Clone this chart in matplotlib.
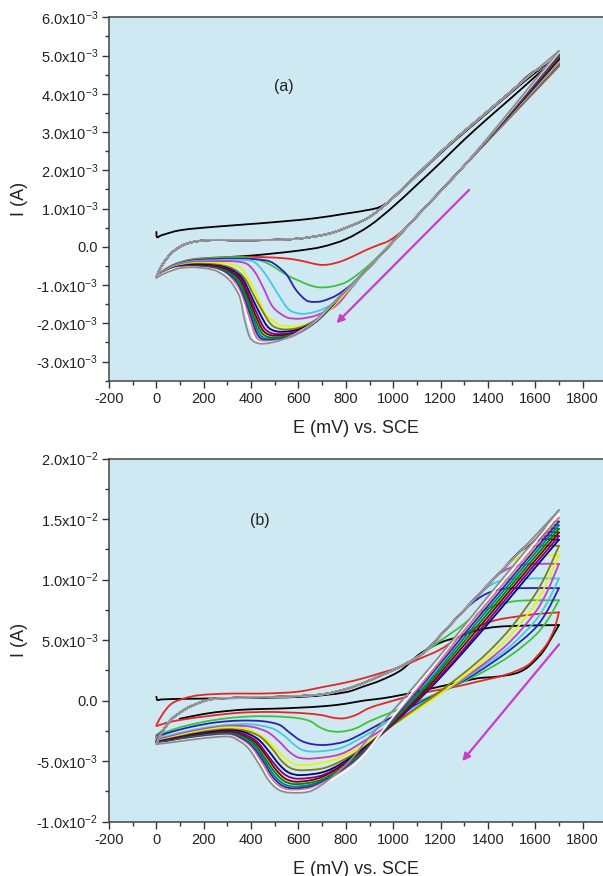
import numpy as np
import matplotlib
matplotlib.use("Agg")
import matplotlib.pyplot as plt
from matplotlib.path import Path
from matplotlib.patches import PathPatch
from matplotlib.ticker import MultipleLocator, FixedLocator, FixedFormatter

# ---------------- data (E in mV, I in mA) ----------------
COLORS = ['#000000', '#e8251f', '#3cc23c', '#2323b4', '#45c8e0', '#c43cc4',
          '#f0f000', '#808000', '#000080', '#800080', '#800000', '#008000',
          '#008080', '#2a2aa8', '#e07090', '#ffffff', '#8c8c8c']

# panel (a)
A_BLACK_FWD_E = [0, 3, 21, 98, 239, 450, 661, 802, 901, 943, 985, 1100, 1224, 1365, 1505, 1600, 1700]
A_BLACK_FWD_I = [0.39, 0.25, 0.30, 0.43, 0.52, 0.62, 0.74, 0.87, 0.97, 1.04, 1.2, 1.86, 2.58, 3.33, 4.07, 4.55, 5.0]
A_FWD_E = [0, 28, 70, 127, 211, 380, 591, 732, 845, 900, 985, 1100, 1224, 1365, 1505, 1600]
A_FWD_I = [-0.79, -0.44, -0.13, 0.08, 0.17, 0.17, 0.21, 0.35, 0.61, 0.78, 1.2, 1.88, 2.61, 3.36, 4.1, 4.6]
A_APEX = [5.0, 4.72, 4.75, 4.78, 4.8, 4.82, 4.85, 4.88, 4.9, 4.93, 4.95, 4.98, 5.0, 5.03, 5.06, 5.09, 5.12]
A_LINE_E = [1300, 1100, 887, 800, 720]
A_LINE_I = [2.12, 0.80, -0.61, -1.15, -1.62]
A_RET = [
    [(1600, 4.45), (1500, 3.9), (1400, 3.36), (1300, 2.8), (1200, 2.2), (1100, 1.62), (1000, 1.05), (900, 0.55),
     (800, 0.2), (700, 0.0), (600, -0.1), (500, -0.17), (400, -0.23), (300, -0.27)],
    [(1040, 0.42), (980, 0.15), (934, 0.04), (880, -0.1), (830, -0.25), (780, -0.38), (730, -0.46), (690, -0.47),
     (650, -0.42), (600, -0.35), (540, -0.3), (450, -0.27), (350, -0.26), (250, -0.28), (150, -0.33), (80, -0.45),
     (30, -0.62), (0, -0.79)],
    [(960, -0.1), (929, -0.3), (873, -0.61), (802, -0.92), (740, -1.04), (690, -1.06), (650, -1.01), (600, -0.88),
     (563, -0.78), (520, -0.62), (490, -0.5), (450, -0.38), (400, -0.3), (350, -0.27), (250, -0.29), (150, -0.34),
     (80, -0.46), (30, -0.63), (0, -0.8)],
    [(880, -0.66), (829, -0.96), (760, -1.27), (700, -1.42), (660, -1.44), (633, -1.40), (591, -1.14),
     (549, -0.72), (510, -0.5), (478, -0.38), (430, -0.33), (350, -0.31), (250, -0.32), (150, -0.36), (80, -0.47),
     (30, -0.63), (0, -0.8)],
    [(860, -0.8), (829, -1.05), (760, -1.44), (690, -1.66), (640, -1.74), (610, -1.75), (563, -1.66), (521, -1.31),
     (478, -0.88), (440, -0.55), (408, -0.38), (350, -0.34), (250, -0.35), (150, -0.38), (80, -0.48), (30, -0.64),
     (0, -0.8)],
    [(840, -0.93), (760, -1.53), (676, -1.79), (620, -1.87), (590, -1.88), (549, -1.84), (493, -1.58), (450, -1.05),
     (415, -0.65), (380, -0.44), (330, -0.38), (250, -0.38), (150, -0.4), (80, -0.5), (30, -0.65), (0, -0.8)],
    [(820, -1.06), (740, -1.6), (661, -1.97), (600, -2.07), (560, -2.08), (521, -2.05), (490, -1.92), (464, -1.79),
     (440, -1.5), (422, -1.22), (390, -0.85), (352, -0.53), (300, -0.44), (250, -0.42), (150, -0.43), (80, -0.52),
     (30, -0.66), (0, -0.8)],
    [(800, -1.15), (700, -1.78), (620, -2.08), (540, -2.16), (490, -2.06), (450, -1.7), (410, -1.25), (370, -0.8),
     (320, -0.56), (250, -0.46), (150, -0.45), (80, -0.53), (30, -0.67), (0, -0.8)],
    [(800, -1.15), (700, -1.8), (610, -2.14), (520, -2.22), (475, -2.12), (440, -1.78), (400, -1.28), (360, -0.8),
     (310, -0.58), (250, -0.49), (150, -0.47), (80, -0.54), (30, -0.68), (0, -0.8)],
    [(780, -1.27), (690, -1.86), (600, -2.2), (505, -2.28), (462, -2.17), (430, -1.82), (393, -1.3), (355, -0.82),
     (305, -0.6), (250, -0.51), (150, -0.49), (80, -0.55), (30, -0.68), (0, -0.8)],
    [(780, -1.27), (690, -1.87), (600, -2.23), (495, -2.32), (455, -2.22), (423, -1.85), (386, -1.3), (350, -0.84),
     (300, -0.62), (250, -0.53), (150, -0.5), (80, -0.55), (30, -0.68), (0, -0.8)],
    [(760, -1.4), (680, -1.92), (590, -2.27), (485, -2.37), (448, -2.27), (416, -1.88), (380, -1.3), (345, -0.86),
     (298, -0.64), (250, -0.55), (150, -0.51), (80, -0.56), (30, -0.69), (0, -0.8)],
    [(760, -1.4), (680, -1.93), (580, -2.3), (475, -2.41), (440, -2.31), (410, -1.9), (374, -1.3), (340, -0.88),
     (295, -0.66), (245, -0.56), (150, -0.52), (80, -0.56), (30, -0.69), (0, -0.8)],
    [(740, -1.52), (670, -1.97), (570, -2.34), (465, -2.44), (432, -2.34), (404, -1.92), (368, -1.3), (335, -0.9),
     (292, -0.68), (243, -0.57), (150, -0.53), (80, -0.56), (30, -0.69), (0, -0.8)],
    [(740, -1.52), (665, -1.98), (560, -2.38), (455, -2.47), (424, -2.38), (398, -1.95), (362, -1.3), (332, -0.93),
     (290, -0.7), (241, -0.58), (150, -0.53), (80, -0.56), (30, -0.69), (0, -0.8)],
    [(720, -1.63), (660, -1.99), (540, -2.42), (445, -2.5), (416, -2.42), (396, -2.1), (357, -1.3), (331, -1.0),
     (288, -0.71), (240, -0.59), (150, -0.54), (80, -0.57), (30, -0.69), (0, -0.8)],
    [(661, -1.98), (600, -2.25), (521, -2.45), (470, -2.52), (436, -2.53), (410, -2.47), (394, -2.36), (373, -1.92),
     (352, -1.31), (330, -1.05), (310, -0.88), (280, -0.72), (239, -0.6), (169, -0.54), (98, -0.56), (40, -0.68),
     (0, -0.8)],
]

# panel (b)
B_BLACK_FWD_E = [0, 4, 20, 100, 308, 631, 800, 873, 950, 1034, 1115, 1200, 1276, 1360, 1437, 1550, 1700]
B_BLACK_FWD_I = [0.33, 0.06, 0.1, 0.15, 0.2, 0.34, 0.7, 1.16, 1.7, 2.53, 3.9, 4.8, 5.28, 5.85, 6.1, 6.2, 6.25]
B_RED_FWD_E = [0, 30, 66, 120, 179, 300, 469, 600, 711, 800, 873, 950, 1034, 1115, 1195, 1276, 1356, 1437, 1518, 1600]
B_RED_FWD_I = [-2.0, -1.0, -0.22, 0.2, 0.45, 0.58, 0.6, 0.75, 1.16, 1.5, 1.85, 2.3, 2.81, 3.5, 4.19, 5.2, 6.12, 6.67, 6.94, 7.15]
B_FWD_START = [0.33, -2.0, -2.84, -2.95, -3.05, -3.15, -3.25, -3.3, -3.35, -3.4, -3.45, -3.5, -3.5, -3.5, -3.55, -3.55, -3.6]
B_FWD_E = [30, 66, 110, 147, 227, 350, 469, 600, 711, 800, 873, 950, 1034, 1126]
B_FWD_I = [-2.4, -1.5, -0.85, -0.45, 0.1, 0.25, 0.3, 0.38, 0.55, 0.95, 1.45, 2.1, 2.85, 3.92]
B_APEX = [6.25, 7.3, 8.3, 9.3, 10.1, 11.3, 12.0, 12.8, 13.3, 13.6, 13.9, 14.2, 14.5, 14.8, 15.1, 15.4, 15.75]
B_FWD_TAIL = [
    [],
    [],
    [(1195, 4.9), (1276, 6.0), (1356, 7.2), (1437, 7.9), (1530, 8.25)],
    [(1200, 5.4), (1300, 7.5), (1380, 8.7), (1450, 9.2), (1540, 9.3)],
    [(1200, 5.4), (1300, 7.5), (1400, 9.4), (1470, 10.0), (1560, 10.1)],
    [(1200, 5.4), (1300, 7.5), (1437, 10.3), (1510, 11.1), (1600, 11.3)],
    [(1200, 5.4), (1300, 7.5), (1437, 10.3), (1500, 11.5), (1560, 12.0)],
    [(1200, 5.4), (1300, 7.5), (1437, 10.3), (1550, 12.5), (1610, 12.8)],
    [(1200, 5.4), (1300, 7.5), (1437, 10.3), (1550, 12.6), (1620, 13.3)],
    [(1200, 5.4), (1300, 7.5), (1437, 10.3), (1550, 12.6), (1640, 13.6)],
    [(1200, 5.4), (1300, 7.5), (1437, 10.3), (1550, 12.6), (1650, 13.9)],
    [(1200, 5.4), (1300, 7.5), (1437, 10.3), (1550, 12.6), (1660, 14.2)],
    [(1200, 5.4), (1300, 7.5), (1437, 10.3), (1550, 12.6), (1670, 14.5)],
    [(1200, 5.4), (1300, 7.5), (1437, 10.3), (1550, 12.6), (1680, 14.8)],
    [(1200, 5.4), (1300, 7.5), (1437, 10.3), (1550, 12.6), (1690, 15.1)],
    [(1200, 5.4), (1300, 7.5), (1437, 10.3), (1550, 12.6)],
    [(1200, 5.4), (1300, 7.5), (1437, 10.3), (1550, 12.6)],
]
B_RET = [
    [(1663, 5.0), (1631, 4.0), (1598, 3.3), (1560, 2.65), (1518, 2.26), (1437, 1.98), (1356, 1.85), (1276, 1.5),
     (1195, 1.16), (1115, 0.8), (1034, 0.47), (953, 0.19), (873, 0.0), (800, -0.25), (711, -0.45), (600, -0.58),
     (500, -0.66), (389, -0.72), (300, -0.85), (200, -1.1), (98, -1.5)],
    [(1680, 5.9), (1650, 4.7), (1604, 3.6), (1566, 2.9), (1485, 2.2), (1356, 1.57), (1250, 1.1), (1115, 0.6),
     (1000, 0.0), (900, -0.6), (840, -1.2), (792, -1.46), (750, -1.42), (700, -1.2), (631, -1.05), (550, -0.97),
     (469, -0.93), (350, -1.0), (227, -1.25), (98, -1.6), (40, -1.85), (0, -2.1)],
    [(1650, 6.6), (1600, 5.4), (1500, 3.8), (1400, 2.6), (1300, 1.6), (1150, 0.3), (1000, -0.9), (900, -1.7),
     (840, -2.3), (780, -2.56), (730, -2.5), (690, -2.2), (650, -1.7), (600, -1.45),
     (500, -1.3), (400, -1.3), (300, -1.45), (200, -1.75), (100, -2.2), (40, -2.6), (0, -2.9)],
    [(1650, 7.4), (1600, 6.0), (1500, 4.3), (1400, 2.9), (1300, 1.7), (1150, 0.2), (1000, -1.3), (880, -2.6),
     (800, -3.35), (720, -3.65), (660, -3.6), (610, -3.3), (560, -2.6), (520, -2.0), (450, -1.7),
     (350, -1.65), (250, -1.8), (150, -2.15), (60, -2.6), (0, -3.0)],
    [(1650, 8.1), (1600, 6.6), (1500, 4.6), (1400, 3.1), (1300, 1.8), (1150, 0.1), (1000, -1.5), (880, -2.9),
     (780, -3.9), (680, -4.2), (620, -4.1), (580, -3.6), (540, -2.9), (490, -2.3), (400, -1.95),
     (300, -2.0), (200, -2.25), (100, -2.65), (40, -2.95), (0, -3.1)],
    [(1650, 9.0), (1600, 7.3), (1500, 5.0), (1400, 3.3), (1300, 1.9), (1150, 0.0), (1000, -1.8), (880, -3.3),
     (780, -4.4), (660, -4.78), (600, -4.7), (560, -4.2), (520, -3.4), (470, -2.6), (400, -2.15),
     (300, -2.1), (200, -2.35), (100, -2.75), (40, -3.05), (0, -3.2)],
    [(1650, 9.8), (1600, 8.0), (1500, 5.5), (1400, 3.6), (1300, 2.0), (1150, -0.1), (1000, -2.0), (880, -3.6),
     (760, -4.8), (640, -5.3), (580, -5.2), (540, -4.7), (500, -3.9), (450, -3.0), (380, -2.35),
     (300, -2.2), (200, -2.45), (100, -2.85), (40, -3.15), (0, -3.3)],
    [(1650, 10.6), (1600, 8.8), (1500, 6.1), (1400, 4.0), (1300, 2.3), (1150, 0.1), (1000, -2.0), (850, -4.2),
     (720, -5.5), (620, -5.75), (570, -5.6), (530, -5.0), (490, -4.0), (440, -3.0), (380, -2.5), (300, -2.35),
     (200, -2.55), (100, -2.95), (40, -3.2), (0, -3.35)],
    [(1600, 11.0), (1450, 7.5), (1300, 4.1), (1150, 0.9), (1000, -1.9), (850, -4.3), (720, -5.8), (610, -6.15),
     (560, -5.95), (520, -5.3), (480, -4.3), (430, -3.2), (370, -2.6), (300, -2.45), (200, -2.65), (100, -3.0),
     (40, -3.25), (0, -3.4)],
    [(1600, 11.3), (1450, 7.8), (1300, 4.3), (1150, 1.0), (1000, -1.9), (850, -4.4), (710, -6.1), (600, -6.45),
     (550, -6.2), (510, -5.5), (470, -4.5), (420, -3.3), (360, -2.7), (300, -2.55), (200, -2.75), (100, -3.05),
     (40, -3.3), (0, -3.45)],
    [(1600, 11.6), (1450, 8.1), (1300, 4.6), (1150, 1.2), (1000, -1.8), (850, -4.5), (700, -6.3), (595, -6.7),
     (545, -6.45), (505, -5.7), (465, -4.6), (415, -3.4), (355, -2.8), (300, -2.6), (200, -2.8), (100, -3.1),
     (40, -3.35), (0, -3.5)],
    [(1600, 11.9), (1450, 8.4), (1300, 4.9), (1150, 1.4), (1000, -1.7), (850, -4.6), (700, -6.5), (590, -6.9),
     (540, -6.65), (500, -5.9), (460, -4.8), (410, -3.5), (350, -2.85), (300, -2.7), (200, -2.85), (100, -3.15),
     (40, -3.4), (0, -3.5)],
    [(1600, 12.2), (1450, 8.7), (1300, 5.2), (1150, 1.6), (1000, -1.6), (850, -4.7), (690, -6.7), (585, -7.1),
     (535, -6.85), (495, -6.1), (455, -4.9), (405, -3.6), (345, -2.9), (300, -2.75), (200, -2.9), (100, -3.2),
     (40, -3.4), (0, -3.5)],
    [(1600, 12.5), (1450, 9.0), (1300, 5.5), (1150, 1.9), (1000, -1.5), (850, -4.8), (680, -6.9), (580, -7.25),
     (530, -7.0), (490, -6.25), (450, -5.0), (400, -3.7), (340, -2.95), (300, -2.8), (200, -2.95), (100, -3.25),
     (40, -3.45), (0, -3.55)],
    [(1600, 12.8), (1450, 9.3), (1300, 5.8), (1150, 2.1), (1000, -1.4), (850, -4.9), (670, -7.1), (575, -7.4),
     (525, -7.15), (485, -6.4), (445, -5.1), (395, -3.75), (335, -3.0), (300, -2.85), (200, -3.0), (100, -3.3),
     (40, -3.5), (0, -3.55)],
    [(1600, 13.1), (1450, 9.6), (1300, 6.1), (1150, 2.4), (1000, -1.3), (850, -5.0), (665, -7.25), (570, -7.5),
     (520, -7.25), (480, -6.5), (440, -5.2), (390, -3.8), (332, -3.05), (300, -2.9), (200, -3.05), (100, -3.3),
     (40, -3.5), (0, -3.6)],
    [(1600, 13.35), (1450, 9.8), (1300, 6.2), (1182, 3.36), (1018, -0.4), (900, -3.0), (800, -5.3), (660, -7.4),
     (565, -7.6), (515, -7.35), (475, -6.6), (435, -5.3), (385, -3.85), (330, -3.1), (300, -2.95), (200, -3.1),
     (100, -3.35), (40, -3.5), (0, -3.6)],
]

E_END = 1700
BG = '#cfe9f3'
ARROW = '#c83cc8'

plt.rcParams['font.family'] = ['Liberation Sans', 'DejaVu Sans']
plt.rcParams['mathtext.fontset'] = 'custom'
plt.rcParams['mathtext.rm'] = 'Liberation Sans'
plt.rcParams['mathtext.it'] = 'Liberation Sans'
plt.rcParams['axes.unicode_minus'] = False


def smooth(ax, E, I, color, yspan, lw=1.3):
    # smooth curve through the read points, drawn as a Bezier path
    # (chord-length Catmull-Rom tangents, so uneven spacing does not overshoot)
    p = np.column_stack([np.asarray(E, float), np.asarray(I, float) * 1e-3])
    scale = np.array([1.0 / 2086.0, 0.8 / yspan])
    q = p * scale
    d = np.hypot(*np.diff(q, axis=0).T)
    n = len(p)
    m = np.zeros_like(q)
    m[0] = (q[1] - q[0]) / d[0]
    m[-1] = (q[-1] - q[-2]) / d[-1]
    for i in range(1, n - 1):
        m[i] = (q[i + 1] - q[i - 1]) / (d[i - 1] + d[i])
    verts, codes = [p[0]], [Path.MOVETO]
    for i in range(n - 1):
        c1 = (q[i] + m[i] * d[i] / 3) / scale
        c2 = (q[i + 1] - m[i + 1] * d[i] / 3) / scale
        verts += [c1, c2, p[i + 1]]
        codes += [Path.CURVE4] * 3
    ax.add_patch(PathPatch(Path(verts, codes), fill=False, edgecolor=color, lw=lw,
                           capstyle='round', joinstyle='round'))


def style_axes(ax, ylim, major, minor, labels):
    ax.set_facecolor(BG)
    ax.set_xlim(-200, 1886)
    ax.set_ylim(*ylim)
    ax.xaxis.set_major_locator(FixedLocator(np.arange(-200, 1801, 200)))
    ax.xaxis.set_minor_locator(FixedLocator(np.arange(-100, 1801, 200)))
    ax.yaxis.set_major_locator(FixedLocator(major))
    ax.yaxis.set_major_formatter(FixedFormatter(labels))
    ax.yaxis.set_minor_locator(MultipleLocator(minor))
    ax.tick_params(which='major', direction='out', length=5, width=1.0, labelsize=10.5, colors='#333333',
                   labelcolor='#222222', pad=3)
    ax.tick_params(which='minor', direction='out', length=3, width=1.0, colors='#333333')
    ax.spines['right'].set_visible(False)
    for s in ['left', 'top', 'bottom']:
        ax.spines[s].set_color('#444444')
        ax.spines[s].set_linewidth(1.1)
    ax.set_xlabel('E (mV) vs. SCE', fontsize=13, color='#222222', labelpad=10)
    ax.set_ylabel('I (A)', fontsize=13, color='#222222')


fig = plt.figure(figsize=(6.03, 8.76), dpi=100)
ax1 = fig.add_axes([0.1808, 0.5654, 0.8192, 0.4149])
ax2 = fig.add_axes([0.1808, 0.0620, 0.8192, 0.4144])

# ----- panel (a) -----
a_major = np.arange(-3, 6.01, 1) * 1e-3
a_labels = ['-3.0x10$^{-3}$', '-2.0x10$^{-3}$', '-1.0x10$^{-3}$', '0.0', '1.0x10$^{-3}$',
            '2.0x10$^{-3}$', '3.0x10$^{-3}$', '4.0x10$^{-3}$', '5.0x10$^{-3}$', '6.0x10$^{-3}$']
style_axes(ax1, (-3.5e-3, 6e-3), a_major, 0.5e-3, a_labels)

for k, col in enumerate(COLORS):
    if k == 0:
        fE, fI = A_BLACK_FWD_E, A_BLACK_FWD_I
    else:
        fE, fI = A_FWD_E + [E_END], A_FWD_I + [A_APEX[k]]
    ret = A_RET[k]
    rE = [E_END] + [e for e in A_LINE_E if e > ret[0][0] + 20] + [r[0] for r in ret]
    rI = [A_APEX[k]] + [i for e, i in zip(A_LINE_E, A_LINE_I) if e > ret[0][0] + 20] + [r[1] for r in ret]
    smooth(ax1, fE, fI, col, 9.5e-3)
    smooth(ax1, rE, rI, col, 9.5e-3)

ax1.text(540, 4.2e-3, '(a)', fontsize=11.5, ha='center', va='center', color='#222222')
ax1.annotate('', xy=(752, -2.05e-3), xytext=(1329, 1.54e-3),
             arrowprops=dict(arrowstyle='-|>', color=ARROW, lw=1.6, mutation_scale=11))

# ----- panel (b) -----
b_major = np.arange(-10, 20.01, 5) * 1e-3
b_labels = ['-1.0x10$^{-2}$', '-5.0x10$^{-3}$', '0.0', '5.0x10$^{-3}$', '1.0x10$^{-2}$',
            '1.5x10$^{-2}$', '2.0x10$^{-2}$']
style_axes(ax2, (-10e-3, 20e-3), b_major, 2.5e-3, b_labels)

for k, col in enumerate(COLORS):
    if k == 0:
        fE, fI = B_BLACK_FWD_E, B_BLACK_FWD_I
    elif k == 1:
        fE, fI = B_RED_FWD_E + [E_END], B_RED_FWD_I + [B_APEX[k]]
    else:
        tail = B_FWD_TAIL[k]
        fE = [0] + B_FWD_E + [t[0] for t in tail] + [E_END]
        fI = [B_FWD_START[k]] + B_FWD_I + [t[1] for t in tail] + [B_APEX[k]]
    ret = B_RET[k]
    rE = [E_END] + [r[0] for r in ret]
    rI = [B_APEX[k]] + [r[1] for r in ret]
    smooth(ax2, fE, fI, col, 30e-3)
    smooth(ax2, rE, rI, col, 30e-3)

ax2.text(437, 14.9e-3, '(b)', fontsize=11.5, ha='center', va='center', color='#222222')
ax2.annotate('', xy=(1284, -5.17e-3), xytext=(1708, 4.83e-3),
             arrowprops=dict(arrowstyle='-|>', color=ARROW, lw=1.6, mutation_scale=11))

for ax in (ax1, ax2):
    ax.yaxis.set_label_coords(-0.165, 0.5)

fig.savefig('out.png', dpi=100)
